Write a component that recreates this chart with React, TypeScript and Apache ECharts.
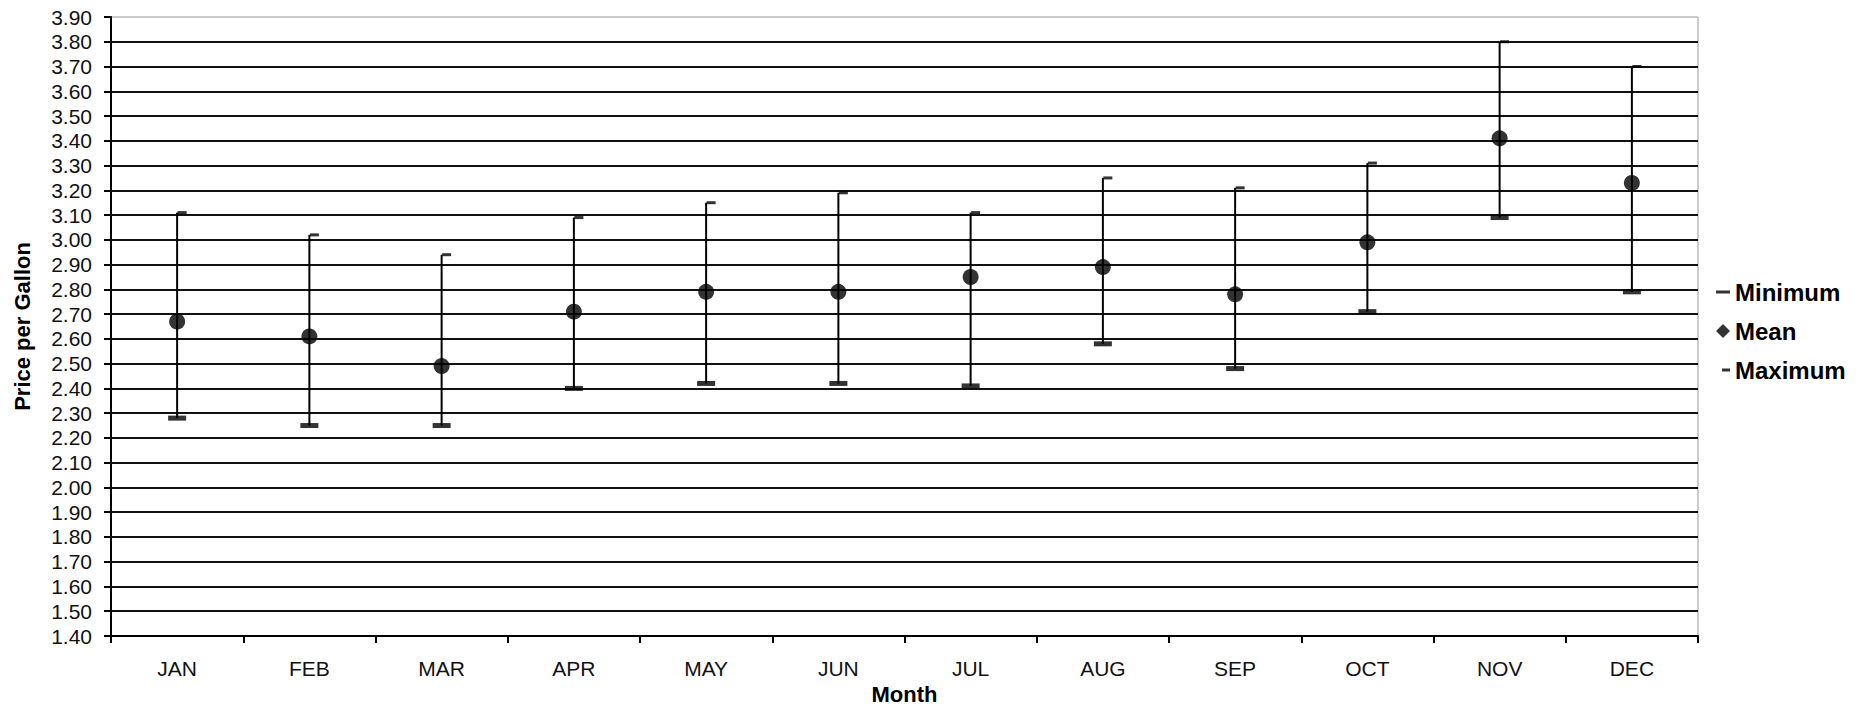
import React, { useEffect, useRef } from "react";
import * as echarts from "echarts";

const months = ["JAN", "FEB", "MAR", "APR", "MAY", "JUN", "JUL", "AUG", "SEP", "OCT", "NOV", "DEC"];
const minimum = [2.28, 2.25, 2.25, 2.40, 2.42, 2.42, 2.41, 2.58, 2.48, 2.71, 3.09, 2.79];
const mean = [2.67, 2.61, 2.49, 2.71, 2.79, 2.79, 2.85, 2.89, 2.78, 2.99, 3.41, 3.23];
const maximum = [3.11, 3.02, 2.94, 3.09, 3.15, 3.19, 3.11, 3.25, 3.21, 3.31, 3.80, 3.70];
const yMin = 1.4;
const yMax = 3.9;
const yStep = 0.1;

const FONT = "'Liberation Sans', Arial, sans-serif";

export default function App() {
  const ref = useRef<HTMLDivElement>(null);
  useEffect(() => {
    if (!ref.current) return;
    const chart = echarts.init(ref.current, null, { renderer: "svg" });
    const legendText = { fontFamily: FONT, fontSize: 24, fontWeight: "bold", color: "#000", lineHeight: 26 };
    const option = {
      animation: false,
      backgroundColor: "#ffffff",
      textStyle: { fontFamily: FONT },
      grid: {
        left: 111,
        top: 17,
        right: 162,
        bottom: 70,
        outerBoundsMode: "none",
        containLabel: false,
        show: true,
        borderColor: "#999999",
        borderWidth: 1,
        backgroundColor: "transparent",
      },
      legend: [
        {
          data: [{ name: "Minimum", icon: "rect" }],
          left: 1716,
          top: 279,
          padding: 0,
          itemWidth: 14,
          itemHeight: 3,
          itemGap: 0,
          textStyle: legendText,
          selectedMode: false,
        },
        {
          data: [{ name: "Mean", icon: "diamond" }],
          left: 1716,
          top: 318,
          padding: 0,
          itemWidth: 14,
          itemHeight: 14,
          textStyle: legendText,
          selectedMode: false,
        },
        {
          data: [{ name: "Maximum", icon: "rect" }],
          left: 1722,
          top: 357,
          padding: 0,
          itemWidth: 8,
          itemHeight: 3,
          textStyle: legendText,
          selectedMode: false,
        },
      ],
      xAxis: {
        type: "category",
        data: months,
        boundaryGap: true,
        name: "Month",
        nameLocation: "middle",
        nameGap: 47,
        nameTextStyle: { fontFamily: FONT, fontSize: 22, fontWeight: "bold", color: "#000" },
        axisLine: { show: true, lineStyle: { color: "#000", width: 2 } },
        axisTick: { show: true, length: 7, lineStyle: { color: "#000", width: 2 } },
        axisLabel: { fontFamily: FONT, fontSize: 21, color: "#111", margin: 22 },
        splitLine: { show: false },
      },
      yAxis: {
        type: "value",
        min: yMin,
        max: yMax,
        interval: yStep,
        name: "Price per Gallon",
        nameLocation: "middle",
        nameGap: 78,
        nameTextStyle: { fontFamily: FONT, fontSize: 22, fontWeight: "bold", color: "#000" },
        axisLine: { show: true, lineStyle: { color: "#000", width: 2 } },
        axisTick: { show: true, length: 7, lineStyle: { color: "#000", width: 2 } },
        axisLabel: {
          fontFamily: FONT,
          fontSize: 21,
          color: "#111",
          margin: 19,
          formatter: (v: number) => v.toFixed(2),
        },
        splitLine: { show: true, showMaxLine: false, lineStyle: { color: "#111", width: 2 } },
      },
      series: [
        {
          type: "custom",
          name: "Range",
          data: months.map((m, i) => [i, minimum[i], maximum[i]]),
          encode: { x: 0, y: [1, 2] },
          renderItem: (params: any, api: any) => {
            const x = api.value(0);
            const p1 = api.coord([x, api.value(1)]);
            const p2 = api.coord([x, api.value(2)]);
            return {
              type: "line",
              shape: { x1: p1[0], y1: p1[1], x2: p2[0], y2: p2[1] },
              style: { stroke: "#000", lineWidth: 2 },
            };
          },
          z: 3,
        },
        {
          type: "scatter",
          name: "Minimum",
          data: minimum,
          symbol: "rect",
          symbolSize: [18, 5],
          itemStyle: { color: "#000" },
          z: 4,
        },
        {
          type: "scatter",
          name: "Maximum",
          data: maximum,
          symbol: "rect",
          symbolSize: [9, 3],
          symbolOffset: [5, 0],
          itemStyle: { color: "#000" },
          z: 4,
        },
        {
          type: "scatter",
          name: "Mean",
          data: mean,
          symbol: "circle",
          symbolSize: 16,
          itemStyle: { color: "#000" },
          z: 5,
        },
      ],
    };
    chart.setOption(option as any);
    return () => chart.dispose();
  }, []);
  return (
    <div
      ref={ref}
      style={{ position: "fixed", left: 0, top: 0, width: 1860, height: 706, background: "#fff" }}
    />
  );
}
